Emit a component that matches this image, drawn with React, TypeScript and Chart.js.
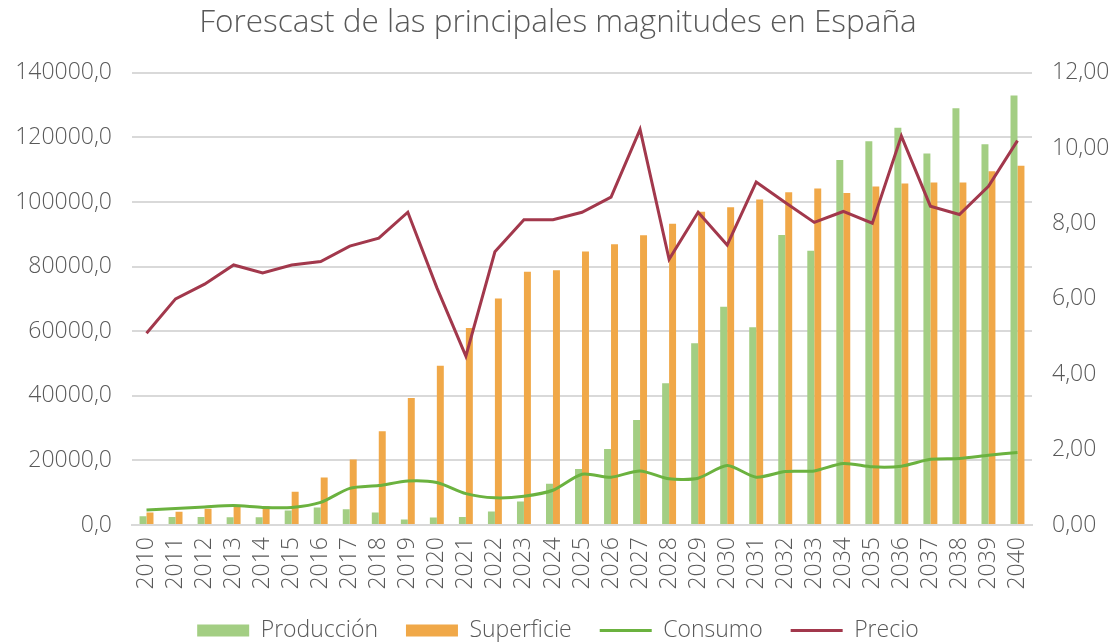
import React, { useEffect, useRef } from "react";
import { Chart, registerables } from "chart.js";

Chart.register(...registerables);

const years = ["2010","2011","2012","2013","2014","2015","2016","2017","2018","2019","2020","2021","2022","2023","2024","2025","2026","2027","2028","2029","2030","2031","2032","2033","2034","2035","2036","2037","2038","2039","2040"];

const produccion = [2700, 2500, 2500, 2400, 2400, 4500, 5400, 4900, 3900, 1700, 2300, 2500, 4200, 7300, 12800, 17300, 23500, 32500, 43900, 56300, 67600, 61200, 89800, 84900, 113000, 118800, 123000, 115000, 129000, 117900, 133000];

const superficie = [3900, 4100, 5000, 5800, 5800, 10300, 14700, 20300, 29000, 39300, 49300, 61000, 70100, 78400, 78900, 84700, 86900, 89700, 93300, 97000, 98400, 100800, 103000, 104200, 102800, 104800, 105700, 106000, 106000, 109500, 111200];

const consumo = [4650, 5100, 5600, 6000, 5450, 5450, 7000, 11350, 12200, 13650, 13150, 9700, 8400, 8900, 10750, 15700, 14800, 16750, 14300, 14500, 18400, 14800, 16550, 16750, 19050, 18000, 18200, 20350, 20600, 21600, 22450];

const precio = [5.09, 6.0, 6.39, 6.9, 6.69, 6.9, 6.99, 7.4, 7.61, 8.3, 6.3, 4.48, 7.25, 8.1, 8.1, 8.3, 8.7, 10.5, 7.05, 8.3, 7.43, 9.1, 8.56, 8.03, 8.32, 8.01, 10.32, 8.46, 8.24, 8.99, 10.2];

const leftTicks = [0, 20000, 40000, 60000, 80000, 100000, 120000, 140000];
const rightTicks = [0, 2, 4, 6, 8, 10, 12];

const FONT = "'Open Sans', Lato, 'Noto Sans', sans-serif";
const TEXT = "#595959";

export default function App() {
  const ref = useRef<HTMLCanvasElement | null>(null);

  useEffect(() => {
    document.body.style.margin = "0";
    const canvas = ref.current;
    if (!canvas) return;
    const chart = new Chart(canvas, {
      type: "bar",
      data: {
        labels: years,
        datasets: [
          {
            type: "bar",
            label: "Producción",
            data: produccion,
            backgroundColor: "#A3CE83",
            yAxisID: "y",
            order: 2,
            categoryPercentage: 0.48,
            barPercentage: 1.0,
          },
          {
            type: "bar",
            label: "Superficie",
            data: superficie,
            backgroundColor: "#F0A848",
            yAxisID: "y",
            order: 2,
            categoryPercentage: 0.48,
            barPercentage: 1.0,
          },
          {
            type: "line",
            label: "Consumo",
            data: consumo,
            borderColor: "#6BB23F",
            backgroundColor: "#6BB23F",
            borderWidth: 3,
            pointRadius: 0,
            tension: 0.25,
            yAxisID: "y",
            order: 1,
          },
          {
            type: "line",
            label: "Precio",
            data: precio,
            borderColor: "#A2384C",
            backgroundColor: "#A2384C",
            borderWidth: 3,
            pointRadius: 0,
            tension: 0,
            yAxisID: "y1",
            order: 0,
          },
        ] as any,
      },
      options: {
        animation: false,
        responsive: false,
        maintainAspectRatio: false,
        layout: { padding: { left: 0, right: 0, top: 0, bottom: -10 } },
        plugins: {
          title: {
            display: true,
            text: "Forescast de las principales magnitudes en España",
            color: TEXT,
            font: { family: FONT, size: 31.5, weight: "300" as any },
            padding: { top: 4, bottom: 31 },
          },
          tooltip: { enabled: false },
          legend: {
            position: "bottom",
            labels: {
              usePointStyle: true,
              pointStyleWidth: 52,
              boxHeight: 12,
              padding: 28,
              color: TEXT,
              font: { family: FONT, size: 23, weight: "300" as any },
              sort: (a: any, b: any) => a.datasetIndex - b.datasetIndex,
              generateLabels: (ch: any) => {
                const items = Chart.defaults.plugins.legend.labels.generateLabels(ch);
                return items.map((it: any) => {
                  const ds = ch.data.datasets[it.datasetIndex];
                  if (ds.type === "line") {
                    it.pointStyle = "line";
                    it.lineWidth = 3;
                    it.strokeStyle = ds.borderColor;
                  } else {
                    it.pointStyle = "rect";
                    it.lineWidth = 0;
                    it.fillStyle = ds.backgroundColor;
                  }
                  return it;
                });
              },
            },
          },
        },
        scales: {
          x: {
            grid: { display: false, drawTicks: false },
            border: { display: true, color: "#D9D9D9", width: 2 },
            afterFit: (s: any) => {
              s.height = 66;
            },
            ticks: {
              color: TEXT,
              font: { family: FONT, size: 23, weight: "300" as any },
              minRotation: 90,
              maxRotation: 90,
              autoSkip: false,
              padding: 12,
            },
          },
          y: {
            position: "left",
            min: 0,
            max: 140000,
            afterBuildTicks: (s: any) => {
              s.ticks = leftTicks.map((v) => ({ value: v }));
            },
            afterFit: (s: any) => {
              s.width = 132;
            },
            grid: { color: "#D9D9D9", lineWidth: 2, drawTicks: false },
            border: { display: false },
            ticks: {
              color: TEXT,
              font: { family: FONT, size: 23, weight: "300" as any },
              padding: 20,
              callback: (v: any) => Number(v).toFixed(1).replace(".", ","),
            },
          },
          y1: {
            position: "right",
            min: 0,
            max: 12,
            afterBuildTicks: (s: any) => {
              s.ticks = rightTicks.map((v) => ({ value: v }));
            },
            afterFit: (s: any) => {
              s.width = 84;
            },
            grid: { display: false, drawTicks: false },
            border: { display: false },
            ticks: {
              color: TEXT,
              font: { family: FONT, size: 23, weight: "300" as any },
              padding: 20,
              callback: (v: any) => Number(v).toFixed(2).replace(".", ","),
            },
          },
        },
      } as any,
    });
    return () => chart.destroy();
  }, []);

  return (
    <div style={{ width: 1116, height: 642, position: "relative", overflow: "hidden" }}>
      <canvas ref={ref} width={1116} height={642} style={{ display: "block" }} />
    </div>
  );
}
